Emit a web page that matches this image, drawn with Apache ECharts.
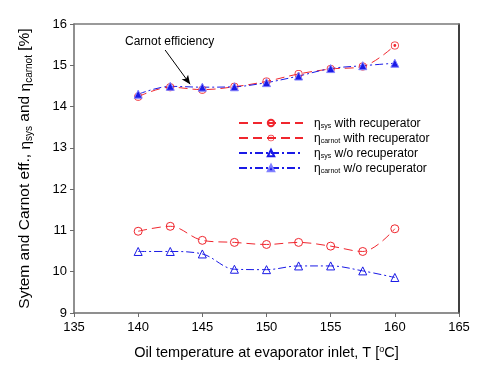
<!DOCTYPE html>
<html><head><meta charset="utf-8">
<script src="https://cdn.jsdelivr.net/npm/echarts@6/dist/echarts.min.js"></script>
<style>html,body{margin:0;padding:0;background:#fff}#c{width:490px;height:381px}</style>
</head><body><div id="c"></div>
<script>
var temps = [140, 142.5, 145, 147.5, 150, 152.5, 155, 157.5, 160];
var sysWith = [10.98, 11.10, 10.76, 10.71, 10.66, 10.71, 10.62, 10.49, 11.04];
var carnotWith = [14.24, 14.47, 14.41, 14.48, 14.61, 14.79, 14.91, 14.97, 15.48];
var sysWithout = [10.49, 10.49, 10.43, 10.06, 10.05, 10.14, 10.14, 10.02, 9.86];
var carnotWithout = [14.30, 14.49, 14.47, 14.48, 14.58, 14.74, 14.92, 14.99, 15.05];
var xTicks = [135, 140, 145, 150, 155, 160, 165];
var yTicks = [9, 10, 11, 12, 13, 14, 15, 16];

function pairs(v){ return temps.map(function(t,i){ return [t, v[i]]; }); }
var FONT = '"Liberation Sans", Arial, sans-serif';
var ringDot = 'path://M10,0 A10,10 0 1,1 9.99,0 Z M10,2 A8,8 0 1,0 10.01,2 Z M10,6.4 A3.6,3.6 0 1,1 9.99,6.4 Z';
var RED = '#f0262e', BLUE = '#1a1ae6', CLEAR = 'rgba(255,255,255,0)';
var names = ['sysWith','carnotWith','sysWithout','carnotWithout'];
var labels = {
  sysWith: '{e|η}{s|sys}{t| with recuperator}',
  carnotWith: '{e|η}{s|carnot}{t| with recuperator}',
  sysWithout: '{e|η}{s|sys}{t| w/o recuperator}',
  carnotWithout: '{e|η}{s|carnot}{t| w/o recuperator}'
};
var chart = echarts.init(document.getElementById('c'), null, {renderer:'canvas'});
chart.setOption({
  animation: false,
  backgroundColor: '#fff',
  textStyle: {fontFamily: FONT},
  grid: {left: 74, right: 31, top: 24, bottom: 68},
  legend: {
    orient: 'vertical', left: 233, top: 113, itemWidth: 64, itemHeight: 8, itemGap: 3,
    data: names,
    formatter: function(n){ return labels[n]; },
    textStyle: {
      padding: [0,0,0,6],
      rich: {
        e: {fontSize: 12, fontFamily: FONT, color: '#000', verticalAlign: 'bottom', lineHeight: 14},
        s: {fontSize: 7, fontFamily: FONT, color: '#000', verticalAlign: 'bottom', lineHeight: 10},
        t: {fontSize: 12, fontFamily: FONT, color: '#000', verticalAlign: 'bottom', lineHeight: 14}
      }
    }
  },
  xAxis: [{
    type: 'value', min: 135, max: 165, interval: 5,
    name: 'Oil temperature at evaporator inlet, T [{sup|o}C]',
    nameLocation: 'middle', nameGap: 32,
    nameTextStyle: {fontSize: 14.5, color: '#000', fontFamily: FONT, rich: {sup: {fontSize: 9, verticalAlign: 'top', color:'#000', lineHeight: 15}}},
    axisLine: {lineStyle: {color: '#6b6b6b', width: 1.5}},
    axisTick: {show: true, inside: false, length: 4, lineStyle: {color: '#6b6b6b'}},
    axisLabel: {color: '#000', fontSize: 13, margin: 8, formatter: function(v){ return xTicks.indexOf(v) >= 0 ? String(v) : ''; }},
    splitLine: {show: false}
  }, {
    type: 'value', position: 'top', min: 135, max: 165,
    axisLine: {lineStyle: {color: '#7a7a7a', width: 1.5}},
    axisTick: {show: false}, axisLabel: {show: false}, splitLine: {show: false}
  }],
  yAxis: [{
    type: 'value', min: 9, max: 16, interval: 1,
    name: 'Sytem and Carnot eff., {e|η}{s|sys} and {e|η}{s|carnot} [%]',
    nameLocation: 'middle', nameGap: 40,
    nameTextStyle: {fontSize: 15.5, color: '#000', fontFamily: FONT,
      rich: {e: {fontSize: 15.5, color:'#000', verticalAlign:'bottom', lineHeight: 19},
             s: {fontSize: 10, color:'#000', verticalAlign:'bottom', lineHeight: 14}}},
    axisLine: {lineStyle: {color: '#6b6b6b', width: 1.5}},
    axisTick: {show: true, inside: false, length: 4, lineStyle: {color: '#6b6b6b'}},
    axisLabel: {color: '#000', fontSize: 13, margin: 7, formatter: function(v){ return yTicks.indexOf(v) >= 0 ? String(v) : ''; }},
    splitLine: {show: false}
  }, {
    type: 'value', position: 'right', min: 9, max: 16,
    axisLine: {show: true, lineStyle: {color: '#000', width: 1.5}},
    axisTick: {show: false}, axisLabel: {show: false}, splitLine: {show: false}
  }],
  series: [
    {name: 'sysWith', type: 'line', smooth: 0.35, data: pairs(sysWith),
     symbol: 'circle', symbolSize: 8, color: RED,
     lineStyle: {color: RED, width: 1, type: [9, 5]},
     itemStyle: {color: CLEAR, borderColor: RED, borderWidth: 1}},
    {name: 'carnotWith', type: 'line', smooth: 0.35, data: pairs(carnotWith),
     symbol: ringDot, symbolSize: 8, color: RED,
     lineStyle: {color: RED, width: 1, type: [9, 5]},
     itemStyle: {color: RED},
     markLine: {silent: true, symbol: ['none', 'arrow'], symbolSize: [6, 9], label: {show: false},
       lineStyle: {color: '#000', width: 1, type: 'solid'},
       data: [[{coord: [142.1, 15.37]}, {coord: [144.05, 14.54]}]]}},
    {name: 'sysWithout', type: 'line', smooth: 0.35, data: pairs(sysWithout),
     symbol: 'triangle', symbolSize: 8, color: BLUE,
     lineStyle: {color: BLUE, width: 1, type: [8, 3, 2, 3]},
     itemStyle: {color: CLEAR, borderColor: BLUE, borderWidth: 1}},
    {name: 'carnotWithout', type: 'line', smooth: 0.35, data: pairs(carnotWithout),
     symbol: 'triangle', symbolSize: 8, color: BLUE,
     lineStyle: {color: BLUE, width: 1, type: [8, 3, 2, 3]},
     itemStyle: {color: BLUE, borderColor: '#8080ff', borderWidth: 1}}
  ],
  graphic: [{type: 'text', left: 125, top: 36, style: {text: 'Carnot efficiency', font: '12px ' + FONT, fill: '#000'}}]
});
</script></body></html>
